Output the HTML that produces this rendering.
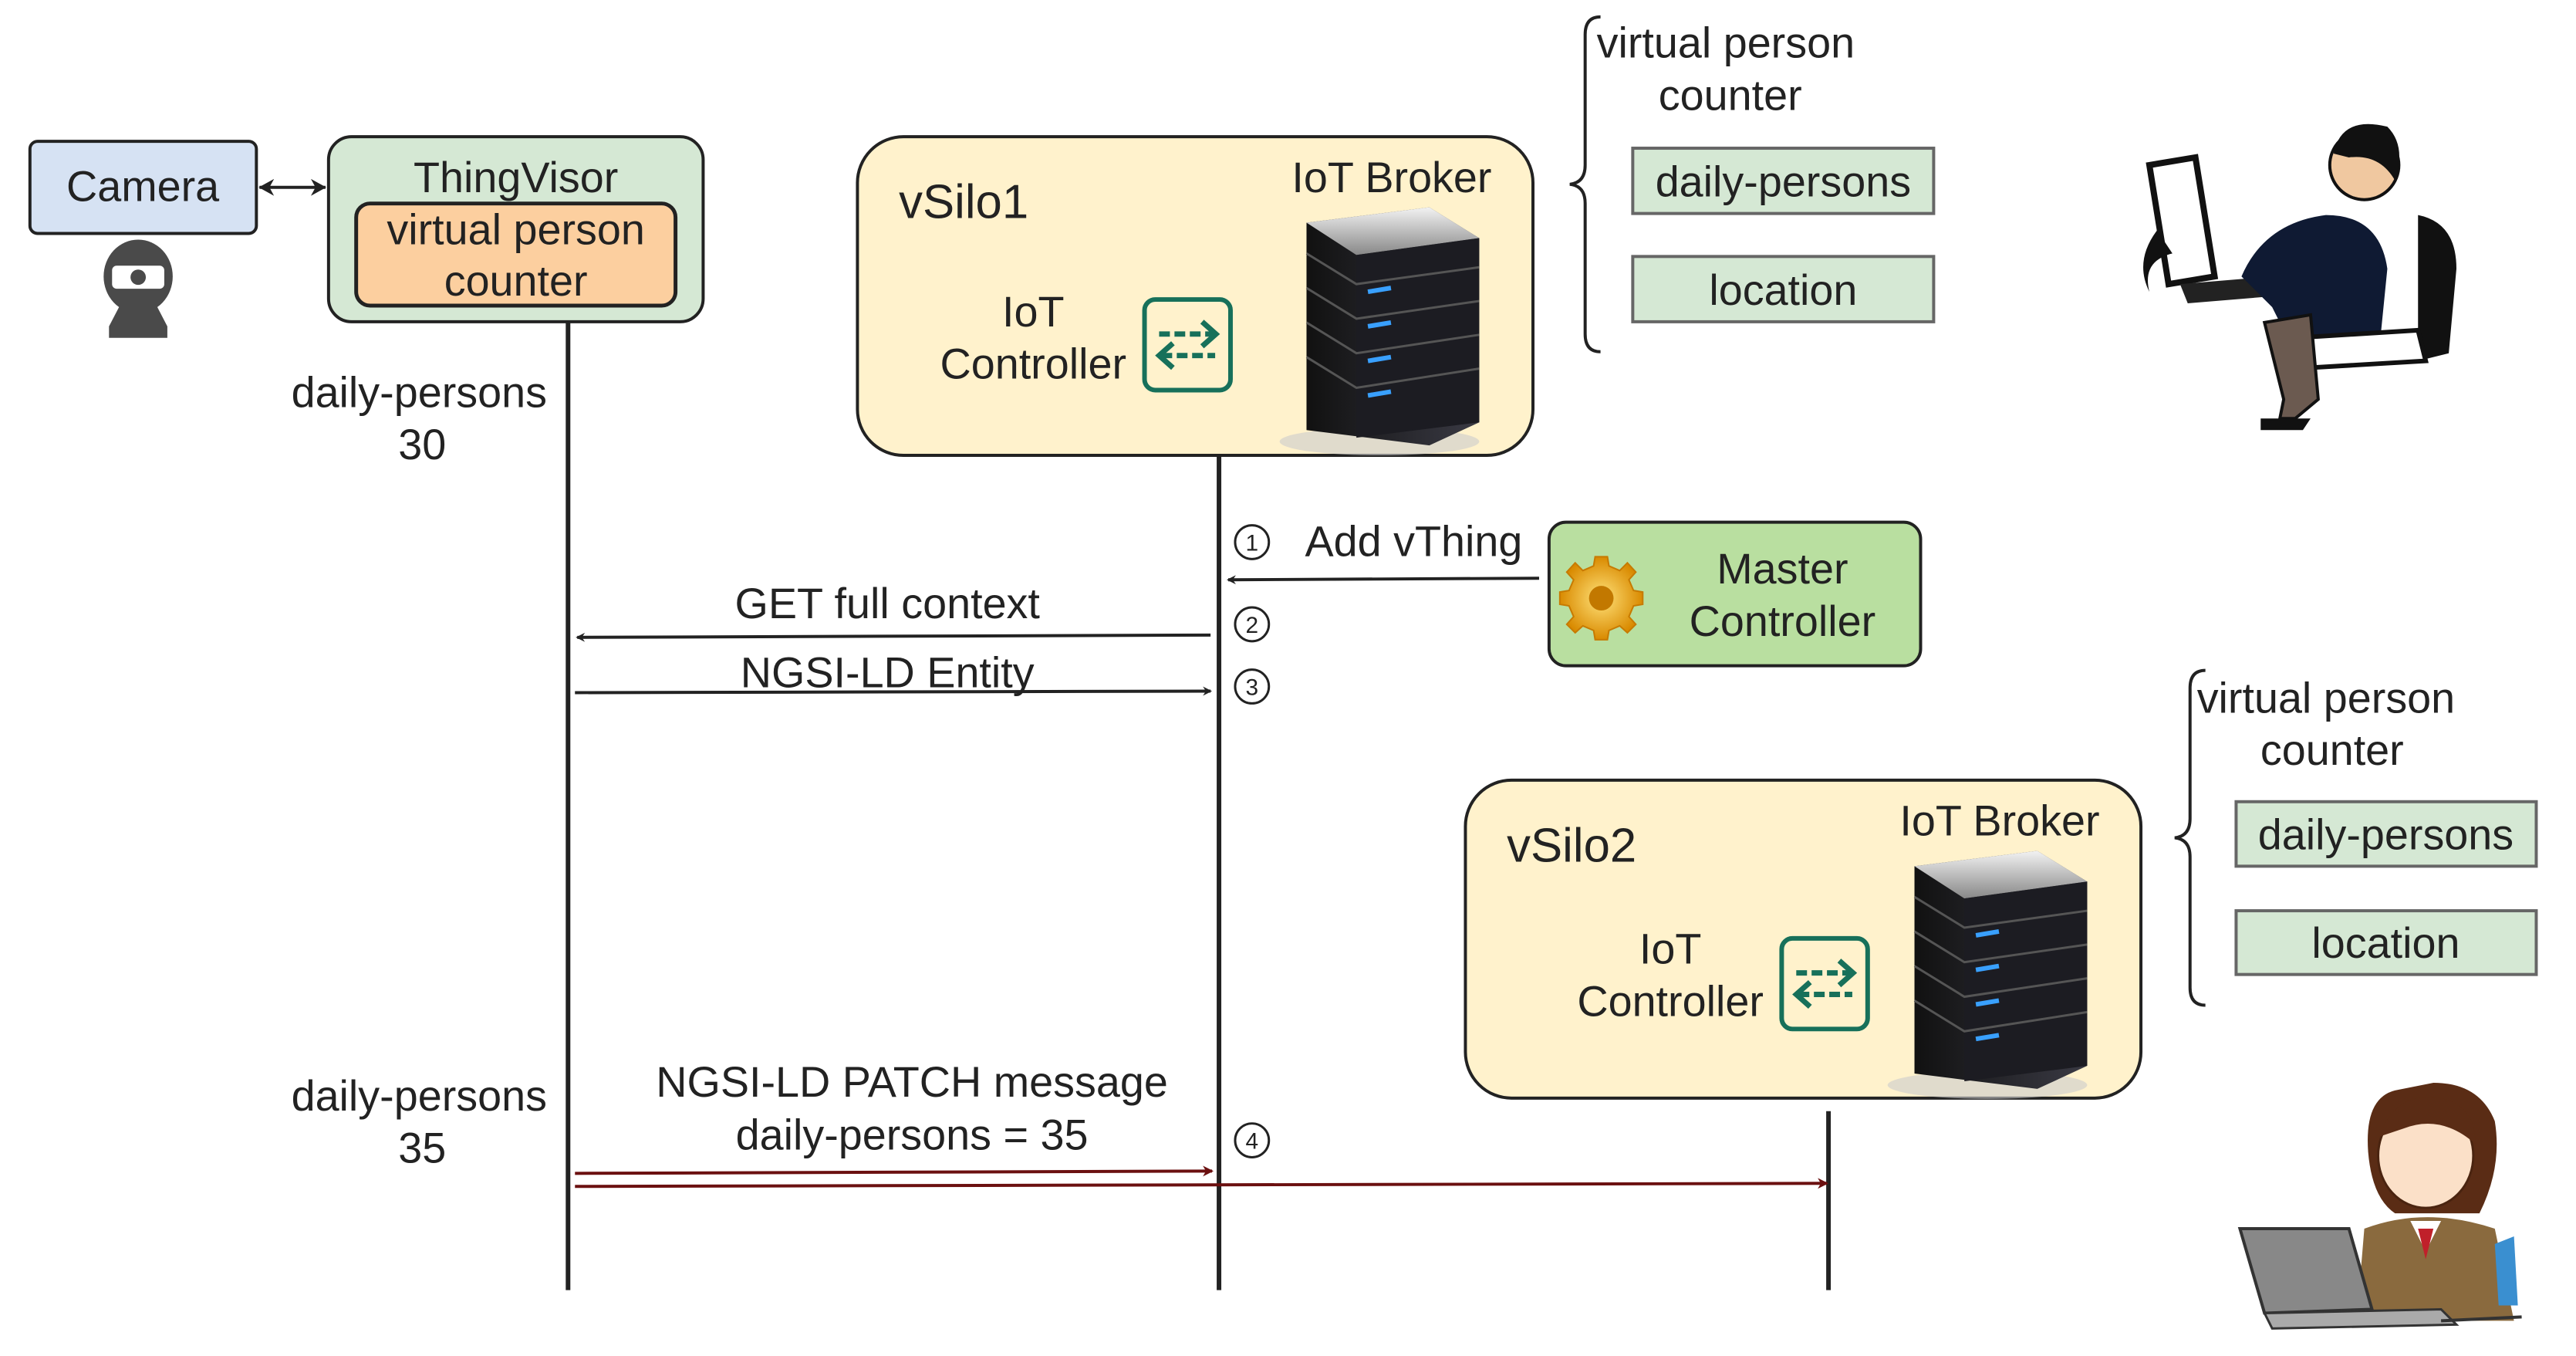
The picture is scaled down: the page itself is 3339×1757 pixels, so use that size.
<!DOCTYPE html>
<html><head><meta charset="utf-8"><style>
html,body{margin:0;padding:0;background:#fff}
svg{display:block}
text{font-family:"Liberation Sans",sans-serif;fill:#222}
</style></head><body>
<svg width="3339" height="1757" viewBox="0 0 3339 1757" xmlns="http://www.w3.org/2000/svg">
<defs>
<marker id="ah" markerWidth="12" markerHeight="12" refX="10" refY="6" orient="auto" markerUnits="userSpaceOnUse"><path d="M0,0 L12,6 L0,12 L4,6 Z" fill="#222"/></marker>
<marker id="ahr" markerWidth="14" markerHeight="14" refX="12" refY="7" orient="auto" markerUnits="userSpaceOnUse"><path d="M0,0 L14,7 L0,14 L4,7 Z" fill="#6b1010"/></marker>
<marker id="ahs" markerWidth="22" markerHeight="22" refX="19" refY="11" orient="auto-start-reverse" markerUnits="userSpaceOnUse"><path d="M0,0 L20,11 L0,22 L6,11 Z" fill="#222"/></marker>
<linearGradient id="srv" x1="0" x2="1"><stop offset="0" stop-color="#111"/><stop offset="0.6" stop-color="#2a2a30"/><stop offset="1" stop-color="#3a3a44"/></linearGradient>
<linearGradient id="top" x1="0" y1="0" x2="0" y2="1"><stop offset="0" stop-color="#f2f2f2"/><stop offset="1" stop-color="#888"/></linearGradient>
<radialGradient id="gear"><stop offset="0" stop-color="#ffe27a"/><stop offset="1" stop-color="#d98a00"/></radialGradient>
<g id="server">
 <ellipse cx="135" cy="305" rx="130" ry="18" fill="#ccc" opacity="0.6"/>
 <path d="M40,20 L200,0 L265,40 L265,280 L200,310 L40,290 Z" fill="url(#srv)"/>
 <path d="M40,20 L200,0 L265,40 L105,62 Z" fill="url(#top)"/>
 <path d="M105,62 L265,40 L265,280 L105,300 Z" fill="#1c1c22"/>
 <g stroke="#555" stroke-width="3" fill="none">
  <path d="M40,60 L105,100 L265,78"/><path d="M40,105 L105,145 L265,122"/><path d="M40,150 L105,190 L265,166"/><path d="M40,195 L105,235 L265,210"/>
 </g>
 <g stroke="#39a0ff" stroke-width="6"><path d="M120,110 L150,105"/><path d="M120,155 L150,150"/><path d="M120,200 L150,195"/><path d="M120,245 L150,240"/></g>
</g>
<g id="ctrl">
 <rect x="3" y="3" width="112" height="118" rx="14" fill="none" stroke="#17705a" stroke-width="6"/>
 <g stroke="#17705a" stroke-width="7" fill="none">
  <path d="M22,48 L92,48" stroke-dasharray="14 6"/><path d="M78,32 L96,48 L78,64"/>
  <path d="M25,76 L95,76" stroke-dasharray="14 6"/><path d="M40,60 L22,76 L40,92"/>
 </g>
</g>
</defs>
<g transform="scale(0.995)">
<!-- Camera -->
<rect x="39" y="184" width="295" height="120" rx="10" fill="#d6e2f3" stroke="#222" stroke-width="4"/>
<text x="186" y="262" font-size="56" text-anchor="middle">Camera</text>
<ellipse cx="180" cy="360" rx="45" ry="48" fill="#4a4a4a"/>
<rect x="146" y="346" width="68" height="30" rx="6" fill="#fff"/>
<circle cx="180" cy="361" r="10" fill="#4a4a4a"/>
<path d="M155,400 L205,400 L218,425 L218,440 L142,440 L142,425 Z" fill="#4a4a4a"/>
<line x1="338" y1="244" x2="424" y2="244" stroke="#222" stroke-width="4" marker-start="url(#ahs)" marker-end="url(#ahs)"/>

<!-- ThingVisor -->
<rect x="428" y="178" width="488" height="241" rx="30" fill="#d5e8d4" stroke="#222" stroke-width="4"/>
<text x="672" y="250" font-size="56" text-anchor="middle">ThingVisor</text>
<rect x="464" y="265" width="416" height="133" rx="18" fill="#fccf9f" stroke="#222" stroke-width="5"/>
<text x="672" y="318" font-size="56" text-anchor="middle">virtual person</text>
<text x="672" y="385" font-size="56" text-anchor="middle">counter</text>

<!-- lifelines -->
<line x1="740" y1="419" x2="740" y2="1680" stroke="#222" stroke-width="6"/>
<line x1="1588" y1="593" x2="1588" y2="1680" stroke="#222" stroke-width="6"/>
<line x1="2382" y1="1447" x2="2382" y2="1680" stroke="#222" stroke-width="6"/>

<text x="546" y="530" font-size="56" text-anchor="middle">daily-persons</text>
<text x="550" y="598" font-size="56" text-anchor="middle">30</text>
<text x="546" y="1446" font-size="56" text-anchor="middle">daily-persons</text>
<text x="550" y="1514" font-size="56" text-anchor="middle">35</text>

<!-- vSilo1 -->
<rect x="1117" y="178" width="880" height="415" rx="60" fill="#fff2cc" stroke="#222" stroke-width="4"/>
<text x="1171" y="284" font-size="62">vSilo1</text>
<text x="1813" y="250" font-size="56" text-anchor="middle">IoT Broker</text>
<use href="#server" x="1662" y="270"/>
<use href="#ctrl" x="1488" y="387"/>
<text x="1346" y="425" font-size="56" text-anchor="middle">IoT</text>
<text x="1346" y="493" font-size="56" text-anchor="middle">Controller</text>

<!-- vSilo2 -->
<rect x="1909" y="1016" width="880" height="414" rx="60" fill="#fff2cc" stroke="#222" stroke-width="4"/>
<text x="1963" y="1122" font-size="62">vSilo2</text>
<text x="2605" y="1088" font-size="56" text-anchor="middle">IoT Broker</text>
<use href="#server" x="2454" y="1108"/>
<use href="#ctrl" x="2318" y="1219"/>
<text x="2176" y="1255" font-size="56" text-anchor="middle">IoT</text>
<text x="2176" y="1323" font-size="56" text-anchor="middle">Controller</text>

<!-- Master controller -->
<rect x="2018" y="680" width="484" height="187" rx="22" fill="#b9dfa0" stroke="#222" stroke-width="4"/>
<g transform="translate(2086,775)">
 <g fill="url(#gear)" stroke="#c77a00" stroke-width="2">
  <path d="M-8,-50 L8,-50 L10,-38 L24,-32 L34,-42 L45,-30 L36,-20 L42,-6 L54,-4 L54,12 L42,14 L36,28 L45,38 L34,49 L24,40 L10,46 L8,58 L-8,58 L-10,46 L-24,40 L-34,49 L-45,38 L-36,28 L-42,14 L-54,12 L-54,-4 L-42,-6 L-36,-20 L-45,-30 L-34,-42 L-24,-32 L-10,-38 Z"/>
 </g>
 <circle cx="0" cy="4" r="16" fill="#c27800"/>
</g>
<text x="2322" y="760" font-size="56" text-anchor="middle">Master</text>
<text x="2322" y="828" font-size="56" text-anchor="middle">Controller</text>

<!-- messages -->
<text x="1700" y="724" font-size="56">Add vThing</text>
<line x1="2005" y1="753" x2="1600" y2="755" stroke="#222" stroke-width="4" marker-end="url(#ah)"/>
<text x="1156" y="805" font-size="56" text-anchor="middle">GET full context</text>
<line x1="1577" y1="827" x2="752" y2="830" stroke="#222" stroke-width="4" marker-end="url(#ah)"/>
<text x="1156" y="895" font-size="56" text-anchor="middle">NGSI-LD Entity</text>
<line x1="749" y1="902" x2="1577" y2="900" stroke="#222" stroke-width="4" marker-end="url(#ah)"/>
<text x="1188" y="1428" font-size="56" text-anchor="middle">NGSI-LD PATCH message</text>
<text x="1188" y="1497" font-size="56" text-anchor="middle">daily-persons = 35</text>
<line x1="749" y1="1528" x2="1579" y2="1525" stroke="#6b1010" stroke-width="4" marker-end="url(#ahr)"/>
<line x1="749" y1="1545" x2="2380" y2="1541" stroke="#6b1010" stroke-width="4" marker-end="url(#ahr)"/>

<g fill="none" stroke="#222" stroke-width="3">
 <circle cx="1631" cy="706" r="22"/><circle cx="1631" cy="813" r="22"/><circle cx="1631" cy="894" r="22"/><circle cx="1631" cy="1485" r="22"/>
</g>
<g font-size="30" text-anchor="middle"><text x="1631" y="717">1</text><text x="1631" y="824">2</text><text x="1631" y="905">3</text><text x="1631" y="1496">4</text></g>

<!-- brace 1 -->
<path d="M2085,22 Q2065,22 2065,45 L2065,215 Q2065,238 2045,240 Q2065,242 2065,265 L2065,435 Q2065,458 2085,458" fill="none" stroke="#222" stroke-width="4"/>
<text x="2080" y="75" font-size="56">virtual person</text>
<text x="2254" y="143" font-size="56" text-anchor="middle">counter</text>
<rect x="2127" y="193" width="392" height="85" fill="#d5e8d4" stroke="#666" stroke-width="4"/>
<text x="2323" y="256" font-size="56" text-anchor="middle">daily-persons</text>
<rect x="2127" y="334" width="392" height="85" fill="#d5e8d4" stroke="#666" stroke-width="4"/>
<text x="2323" y="397" font-size="56" text-anchor="middle">location</text>

<!-- brace 2 -->
<path d="M2873,873 Q2853,873 2853,896 L2853,1066 Q2853,1089 2833,1091 Q2853,1093 2853,1116 L2853,1286 Q2853,1309 2873,1309" fill="none" stroke="#222" stroke-width="4"/>
<text x="2862" y="928" font-size="56">virtual person</text>
<text x="3038" y="996" font-size="56" text-anchor="middle">counter</text>
<rect x="2913" y="1044" width="391" height="84" fill="#d5e8d4" stroke="#666" stroke-width="4"/>
<text x="3108" y="1106" font-size="56" text-anchor="middle">daily-persons</text>
<rect x="2913" y="1186" width="391" height="83" fill="#d5e8d4" stroke="#666" stroke-width="4"/>
<text x="3108" y="1247" font-size="56" text-anchor="middle">location</text>

<!-- person at desk (top right) -->
<g>
 <path d="M2800,215 L2860,205 L2885,360 L2825,370 Z" fill="#fff" stroke="#111" stroke-width="8"/>
 <path d="M2810,300 Q2780,340 2800,380 Q2790,340 2830,330 Z" fill="#111"/>
 <path d="M2840,370 L2960,360 L2970,385 L2850,395 Z" fill="#222"/>
 <path d="M2920,360 Q2950,290 3030,280 Q3100,280 3110,350 L3100,450 L2990,460 L2960,400 Z" fill="#0f1a33"/>
 <circle cx="3080" cy="215" r="45" fill="#f0c8a0" stroke="#111" stroke-width="4"/>
 <path d="M3040,200 Q3050,150 3110,165 Q3135,190 3120,235 Q3100,200 3060,205 Z" fill="#111"/>
 <path d="M3150,280 Q3200,290 3200,350 L3190,460 L3150,470 Z" fill="#111"/>
 <path d="M2990,440 L3150,430 L3160,470 L2990,480 Z" fill="#fff" stroke="#111" stroke-width="6"/>
 <path d="M2950,420 L3010,410 L3020,520 L2990,545 L2970,545 L2975,520 Z" fill="#6b5a50" stroke="#111" stroke-width="4"/>
 <path d="M2945,545 L3010,545 L3000,560 L2945,560 Z" fill="#111"/>
</g>

<!-- woman with laptop (bottom right) -->
<g>
 <path d="M3120,1420 Q3080,1430 3085,1500 Q3090,1560 3120,1580 L3230,1580 Q3260,1520 3250,1460 Q3230,1410 3170,1410 Z" fill="#5a2c15"/>
 <ellipse cx="3160" cy="1505" rx="62" ry="68" fill="#fbe0c8" stroke="#4a2410" stroke-width="3"/>
 <path d="M3100,1480 Q3120,1420 3180,1430 Q3225,1440 3225,1490 Q3180,1450 3130,1470 Z" fill="#5a2c15"/>
 <path d="M3080,1600 Q3160,1570 3250,1600 L3275,1720 L3070,1720 Z" fill="#8a6a3e"/>
 <path d="M3140,1590 L3160,1630 L3180,1590 Z" fill="#fff"/>
 <path d="M3150,1600 L3170,1600 L3160,1640 Z" fill="#c0202a"/>
 <path d="M3250,1620 L3275,1610 L3280,1700 L3255,1700 Z" fill="#3a8fd0"/>
 <path d="M2918,1600 L3060,1600 L3090,1705 L2950,1710 Z" fill="#888" stroke="#333" stroke-width="4"/>
 <path d="M2950,1710 L3180,1705 L3200,1725 L2960,1730 Z" fill="#aaa" stroke="#333" stroke-width="3"/>
 <line x1="3180" y1="1720" x2="3285" y2="1715" stroke="#333" stroke-width="4"/>
</g>
</g>
</svg>
</body></html>
